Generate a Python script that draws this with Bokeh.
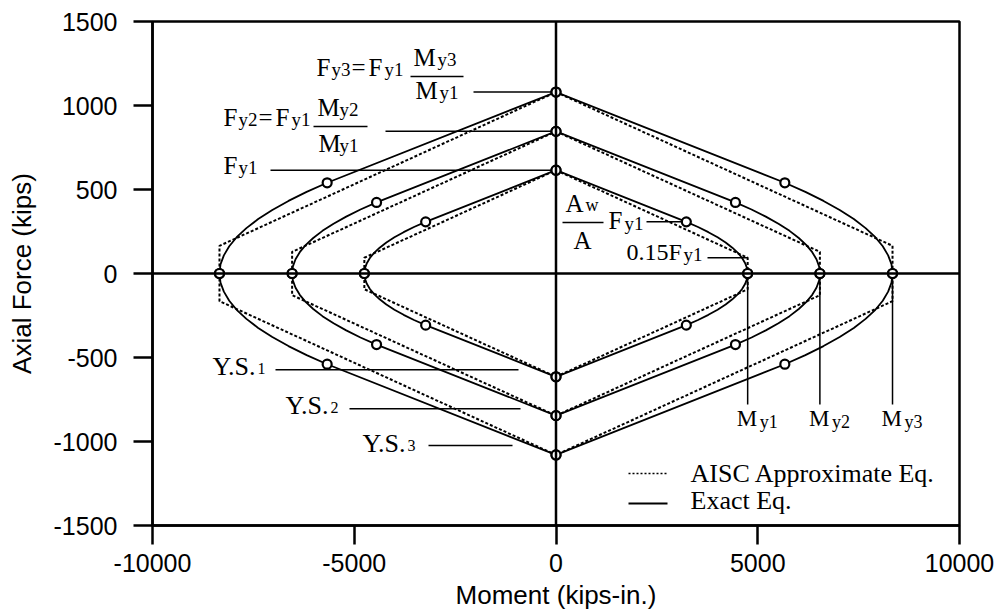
from bokeh.plotting import figure
from bokeh.models import Span, Label, FixedTicker
from bokeh.embed import file_html
from bokeh.resources import INLINE

# ---- yield surfaces: plastic moment and squash load of each section ----
surface_names = ["Y.S.1", "Y.S.2", "Y.S.3"]
moment_capacity = [4750, 6540, 8340]   # My  (kips-in.)
axial_capacity = [615, 846, 1080]      # Fy  (kips)

# exact interaction curve, normalised, first quadrant (P/Py, M/My)
exact_p = [0.00, 0.05, 0.10, 0.15, 0.20, 0.25, 0.30, 0.35, 0.40, 0.45, 0.50, 1.00]
exact_m = [1.000, 0.997, 0.987, 0.971, 0.949, 0.920, 0.885, 0.843, 0.795, 0.741, 0.680, 0.000]

# AISC approximate interaction, normalised, right half from top to bottom
aisc_p = [1.00, 0.1525, -0.1525, -1.00]
aisc_m = [0.00, 1.000, 1.000, 0.00]

# marked points on each exact curve (normalised, first quadrant)
marker_p = [1.00, 0.50, 0.00]
marker_m = [0.00, 0.68, 1.00]

x_ticks = [-10000, -5000, 0, 5000, 10000]
y_ticks = [-1500, -1000, -500, 0, 500, 1000, 1500]

# ---- frame geometry (pixels) used to place the annotations ----
W, H = 1000, 613
FL, FR, FT, FB = 152, 959, 21, 525
X0, X1, Y0, Y1 = -10000, 10000, -1500, 1500
BASELINE_FIX = 10   # Label draws its baseline this many px below its anchor


def xd(px):
    return X0 + (px - FL) * (X1 - X0) / (FR - FL)


def yd(py):
    return Y1 - (py - FT) * (Y1 - Y0) / (FB - FT)


def full_outline(m_half, p_half):
    """Right half (top to bottom) mirrored into a closed outline."""
    xs = list(m_half) + [-m for m in reversed(m_half)]
    ys = list(p_half) + list(reversed(p_half))
    return xs, ys


# right half of the exact curve, traversed from top to bottom
exact_half_p = exact_p[::-1] + [-v for v in exact_p[1:]]
exact_half_m = exact_m[::-1] + exact_m[1:]
exact_x, exact_y = full_outline(exact_half_m, exact_half_p)
aisc_x, aisc_y = full_outline(aisc_m, aisc_p)

p = figure(width=W, height=H, x_range=(X0, X1), y_range=(Y0, Y1),
           output_backend="svg", toolbar_location=None,
           min_border_left=FL, min_border_right=W - FR,
           min_border_top=FT, min_border_bottom=H - FB)
p.grid.visible = False
p.outline_line_color = "black"
p.outline_line_width = 2.5
p.background_fill_color = "white"
p.border_fill_color = "white"

for ax in (p.xaxis[0], p.yaxis[0]):
    ax.axis_line_width = 2.5
    ax.major_tick_line_width = 2.5
    ax.major_tick_in = 0
    ax.major_tick_out = 19
    ax.minor_tick_line_color = None
    ax.major_label_text_font = "Liberation Sans"
    ax.major_label_text_font_size = "25px"
    ax.major_label_text_color = "black"
    ax.axis_label_text_font = "Liberation Sans"
    ax.axis_label_text_font_size = "26px"
    ax.axis_label_text_font_style = "normal"
    ax.axis_label_text_color = "black"

p.xaxis[0].ticker = FixedTicker(ticks=x_ticks)
p.yaxis[0].ticker = FixedTicker(ticks=y_ticks)
p.xaxis[0].major_label_overrides = {t: str(t) for t in x_ticks}
p.yaxis[0].major_label_overrides = {t: str(t) for t in y_ticks}
p.xaxis[0].axis_label = "Moment (kips-in.)"
p.yaxis[0].axis_label = "Axial Force (kips)"
p.xaxis[0].major_label_standoff = 9
p.yaxis[0].major_label_standoff = 16
p.xaxis[0].axis_label_standoff = 5
p.yaxis[0].axis_label_standoff = 14

# axes through the origin
p.add_layout(Span(location=0, dimension="width", line_color="black", line_width=2.5))
p.add_layout(Span(location=0, dimension="height", line_color="black", line_width=2.5))

SERIF = "Liberation Serif"


def txt(px, py, s, size=25):
    p.add_layout(Label(x=xd(px), y=yd(py - BASELINE_FIX), text=s, text_font=SERIF,
                       text_font_size=f"{size}px", text_baseline="alphabetic",
                       text_align="left", text_color="black"))


def rule(px0, px1, py, width=1.5):
    p.segment(x0=[xd(px0)], y0=[yd(py)], x1=[xd(px1)], y1=[yd(py)],
              line_color="black", line_width=width)


# ---- leaders (drawn under the curves' markers) ----
fy_leader_start = [270, 385, 473]
p.segment(x0=[xd(v) for v in fy_leader_start], y0=axial_capacity,
          x1=[0] * 3, y1=axial_capacity, line_color="black", line_width=1.5)

# Aw/A Fy1 leader to the web/flange transition point of the first surface
p.segment(x0=[xd(646)], y0=[marker_p[1] * axial_capacity[0]],
          x1=[marker_m[1] * moment_capacity[0]], y1=[marker_p[1] * axial_capacity[0]],
          line_color="black", line_width=1.5)
# 0.15Fy1 leader to the corner of the AISC surface
p.segment(x0=[xd(707)], y0=[aisc_p[1] * axial_capacity[0]],
          x1=[moment_capacity[0]], y1=[aisc_p[1] * axial_capacity[0]],
          line_color="black", line_width=1.5)

# My leaders, dropping from the moment capacities
my_leader_end = yd(404)
p.segment(x0=moment_capacity, y0=[0] * 3, x1=moment_capacity, y1=[my_leader_end] * 3,
          line_color="black", line_width=1.5)

# yield-surface name leaders
ys_leader_py = [369.3, 408.3, 445.0]
ys_leader_x0 = [275, 349, 428]
ys_leader_x1 = [518, 520, 512]
p.segment(x0=[xd(v) for v in ys_leader_x0], y0=[yd(v) for v in ys_leader_py],
          x1=[xd(v) for v in ys_leader_x1], y1=[yd(v) for v in ys_leader_py],
          line_color="black", line_width=1.5)

# ---- interaction surfaces ----
for my, fy in zip(moment_capacity, axial_capacity):
    p.line([m * my for m in aisc_x], [v * fy for v in aisc_y],
           line_color="black", line_width=2, line_dash="3 2")
    p.line([m * my for m in exact_x], [v * fy for v in exact_y],
           line_color="black", line_width=1.8)
    mx, my_pts = [], []
    for mm, pp in zip(marker_m, marker_p):
        for sx, sy in ((1, 1), (-1, 1), (1, -1), (-1, -1)):
            mx.append(sx * mm * my)
            my_pts.append(sy * pp * fy)
    p.scatter(mx, my_pts, marker="circle", size=9, fill_color="white",
              line_color="black", line_width=2.2)

# ---- annotations ----
# Fy3 = Fy1 My3/My1
txt(316, 77, "F"); txt(331, 79, "y3", 19); txt(351, 77, "=")
txt(368, 77, "F"); txt(384, 79, "y1", 19)
rule(410, 463, 76)
txt(413, 67, "M"); txt(437, 69, "y3", 19)
txt(415, 100, "M"); txt(439, 102, "y1", 19)

# Fy2 = Fy1 My2/My1
txt(223, 127, "F"); txt(238, 129, "y2", 19); txt(258, 127, "=")
txt(275, 127, "F"); txt(291, 129, "y1", 19)
rule(313, 367, 126)
txt(317, 117, "M"); txt(339, 119, "y2", 19)
txt(318, 153, "M"); txt(339, 155, "y1", 19)

# Fy1
txt(223, 175, "F"); txt(238, 177, "y1", 19)

# Aw/A Fy1
txt(565, 213, "A"); txt(585, 214, "w", 18)
rule(562, 603, 222)
txt(573, 250, "A")
txt(608, 230, "F"); txt(624, 233, "y1", 19)

# 0.15Fy1
txt(626, 261, "0.15F", 24); txt(683, 264, "y1", 19)

# My labels under the leaders
for i, my in enumerate(moment_capacity):
    p.add_layout(Label(x=my, y=yd(428 - BASELINE_FIX), x_offset=-11, text="M",
                       text_font=SERIF, text_font_size="23px",
                       text_baseline="alphabetic", text_color="black"))
    p.add_layout(Label(x=my, y=yd(431 - BASELINE_FIX), x_offset=12, text=f"y{i + 1}",
                       text_font=SERIF, text_font_size="18px",
                       text_baseline="alphabetic", text_color="black"))

# yield-surface names
ys_text_px = [212, 285, 362]
ys_text_py = [376, 415, 453]
for name, tx, ty in zip(surface_names, ys_text_px, ys_text_py):
    base, idx = name[:-1], name[-1]
    txt(tx, ty, base, 26)
    txt(tx + 45, ty + 2, idx, 16)

# ---- key ----
p.segment(x0=[xd(628)], y0=[yd(473)], x1=[xd(667)], y1=[yd(473)],
          line_color="black", line_width=1.5, line_dash="2 2")
p.segment(x0=[xd(628)], y0=[yd(503)], x1=[xd(667)], y1=[yd(503)],
          line_color="black", line_width=1.8)
txt(690, 483, "AISC Approximate Eq.", 26)
txt(690, 510, "Exact Eq.", 26)

open("out.html", "w").write(file_html(p, INLINE))
